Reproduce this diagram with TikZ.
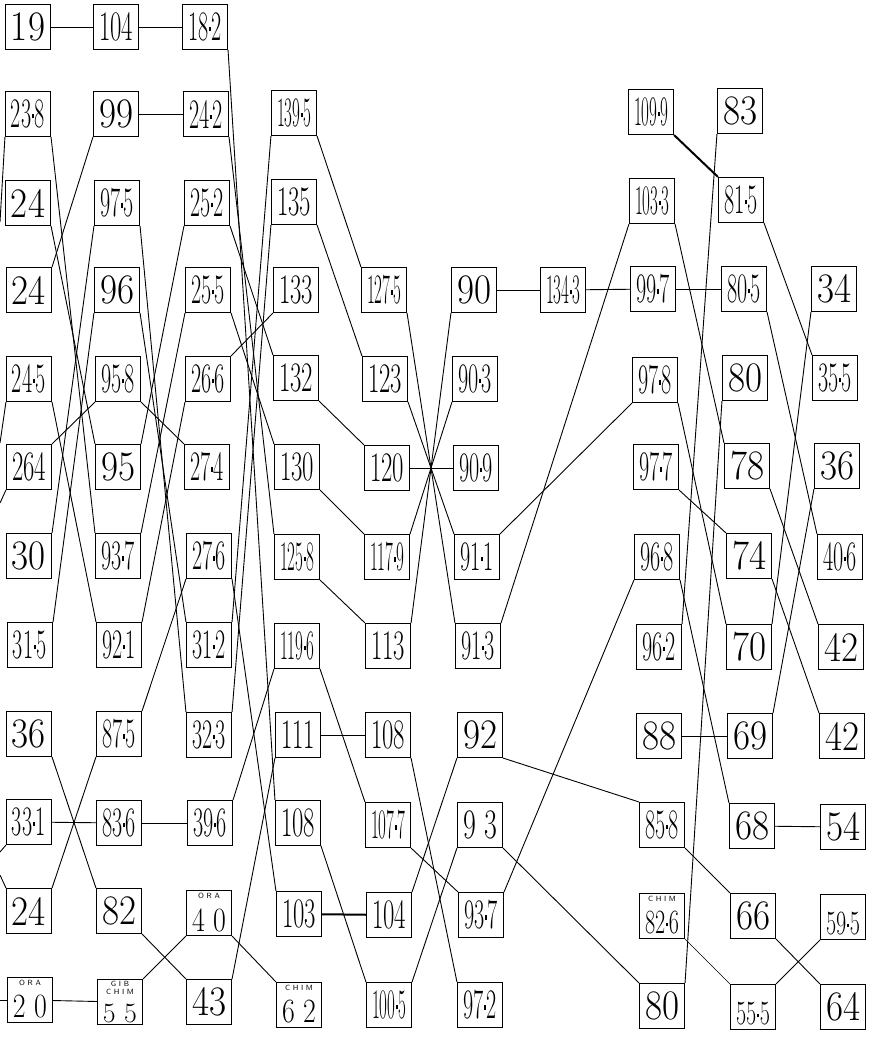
\documentclass[tikz,border=0pt]{standalone}
\usepackage{fontspec}
\usepackage{graphicx}
\newsavebox\numbox
\newcommand{\pd}{\kern0.03em\raisebox{0.22em}{\rule{0.1em}{0.1em}}\kern0.03em}
\newcommand{\fitnum}[2][42]{\sbox\numbox{\fontsize{#1}{#1}\selectfont #2}%
  \ifdim\wd\numbox>34pt\resizebox{34pt}{\height}{\usebox\numbox}\else\usebox\numbox\fi}
\newcommand{\lownum}[2][34]{\raisebox{-7pt}[\height][\depth]{\fitnum[#1]{#2}}}

\begin{document}
\begin{tikzpicture}[x={(1pt,0pt)}, y={(0pt,-1pt)},
  box/.style={draw,rectangle,fill=white,minimum width=45pt,minimum height=45pt,inner sep=0pt,line width=1.1pt},
  tagtext/.style={font=\sffamily\fontsize{7.5}{8}\selectfont,inner sep=0pt,align=center,anchor=north},
  link/.style={line width=0.9pt}]
  \useasboundingbox[fill=white] (0,0) rectangle (871,1038);
  % Nodes
  % column 1
  \node[box] (V19) at (28,27) {\fitnum{19}};
  \node[box] (V238) at (28,114) {\fitnum{23\pd8}};
  \node[box] (V24a) at (28,203) {\fitnum{24}};
  \node[box] (V24b) at (29,290) {\fitnum{24}};
  \node[box] (V245) at (29,379) {\fitnum{24\pd5}};
  \node[box] (V264) at (29,467) {\fitnum{264}};
  \node[box] (V30) at (29,556) {\fitnum{30}};
  \node[box] (V315) at (30,645) {\fitnum{31\pd5}};
  \node[box] (V36a) at (29,734) {\fitnum{36}};
  \node[box] (V331) at (29,822) {\fitnum{33\pd1}};
  \node[box] (V24c) at (29,911) {\fitnum{24}};
  \node[box] (V20) at (30,1000) {\lownum{2 0}};
  \node[tagtext] (T20) at ([yshift=-3pt]V20.north) {O R A};
  % column 2
  \node[box] (V104a) at (116,27) {\fitnum{104}};
  \node[box] (V99) at (116,114) {\fitnum{99}};
  \node[box] (V975) at (117,203) {\fitnum{97\pd5}};
  \node[box] (V96) at (117,290) {\fitnum{96}};
  \node[box] (V958) at (118,379) {\fitnum{95\pd8}};
  \node[box] (V95) at (118,467) {\fitnum{95}};
  \node[box] (V937a) at (118,556) {\fitnum{93\pd7}};
  \node[box] (V921) at (119,645) {\fitnum{92\pd1}};
  \node[box] (V875) at (119,734) {\fitnum{87\pd5}};
  \node[box] (V836) at (119,823) {\fitnum{83\pd6}};
  \node[box] (V82) at (119,911) {\fitnum{82}};
  \node[box] (V55) at (120,1002) {\raisebox{-11pt}[\height][\depth]{\fitnum[28]{5 5}}};
  \node[tagtext] (T55) at ([yshift=-2pt]V55.north) {G I B\\C H I M};
  % column 3
  \node[box] (V182) at (205,27) {\fitnum{18\pd2}};
  \node[box] (V242) at (206,114) {\fitnum{24\pd2}};
  \node[box] (V252) at (207,203) {\fitnum{25\pd2}};
  \node[box] (V255) at (208,290) {\fitnum{25\pd5}};
  \node[box] (V266) at (208,379) {\fitnum{26\pd6}};
  \node[box] (V274) at (207,467) {\fitnum{27\pd4}};
  \node[box] (V276) at (209,556) {\fitnum{27\pd6}};
  \node[box] (V312) at (209,645) {\fitnum{31\pd2}};
  \node[box] (V323) at (209,735) {\fitnum{32\pd3}};
  \node[box] (V396) at (210,823) {\fitnum{39\pd6}};
  \node[box] (V40) at (209,913) {\lownum{4 0}};
  \node[tagtext] (T40) at ([yshift=-3pt]V40.north) {O R A};
  \node[box] (V43) at (209,1002) {\fitnum{43}};
  % column 4
  \node[box] (V1395) at (294,113) {\fitnum{139\pd5}};
  \node[box] (V135) at (294,202) {\fitnum{135}};
  \node[box] (V133) at (296,290) {\fitnum{133}};
  \node[box] (V132) at (296,378) {\fitnum{132}};
  \node[box] (V130) at (297,467) {\fitnum{130}};
  \node[box] (V1258) at (297,557) {\fitnum{125\pd8}};
  \node[box] (V1196) at (297,646) {\fitnum{119\pd6}};
  \node[box] (V111) at (298,735) {\fitnum{111}};
  \node[box] (V108b) at (298,823) {\fitnum{108}};
  \node[box] (V103) at (299,914) {\fitnum{103}};
  \node[box] (V62) at (299,1005) {\lownum{6 2}};
  \node[tagtext] (T62) at ([yshift=-3pt]V62.north) {C H I M};
  % column 5
  \node[box] (V1275) at (384,290) {\fitnum{127\pd5}};
  \node[box] (V123) at (385,379) {\fitnum{123}};
  \node[box] (V120) at (387,468) {\fitnum{120}};
  \node[box] (V1179) at (387,557) {\fitnum{117\pd9}};
  \node[box] (V113) at (388,646) {\fitnum{113}};
  \node[box] (V108a) at (388,735) {\fitnum{108}};
  \node[box] (V1077) at (388,825) {\fitnum{107\pd7}};
  \node[box] (V104b) at (389,915) {\fitnum{104}};
  \node[box] (V1005) at (389,1005) {\fitnum{100\pd5}};
  % column 6
  \node[box] (V90) at (474,290) {\fitnum{90}};
  \node[box] (V903) at (475,379) {\fitnum{90\pd3}};
  \node[box] (V909) at (476,468) {\fitnum{90\pd9}};
  \node[box] (V911) at (477,557) {\fitnum{91\pd1}};
  \node[box] (V913) at (478,646) {\fitnum{91\pd3}};
  \node[box] (V92) at (480,735) {\fitnum{92}};
  \node[box] (V93) at (480,825) {\fitnum{9 3}};
  \node[box] (V937b) at (481,915) {\fitnum{93\pd7}};
  \node[box] (V972) at (480,1005) {\fitnum{97\pd2}};
  \node[box] (V1343) at (563,290) {\fitnum{134\pd3}};
  % column 7
  \node[box] (V1099) at (651,112) {\fitnum{109\pd9}};
  \node[box] (V1033) at (652,201) {\fitnum{103\pd3}};
  \node[box] (V997) at (653,289) {\fitnum{99\pd7}};
  \node[box] (V978) at (655,380) {\fitnum{97\pd8}};
  \node[box] (V977) at (656,467) {\fitnum{97\pd7}};
  \node[box] (V968) at (657,557) {\fitnum{96\pd8}};
  \node[box] (V962) at (659,647) {\fitnum{96\pd2}};
  \node[box] (V88) at (659,736) {\fitnum{88}};
  \node[box] (V858) at (662,825) {\fitnum{85\pd8}};
  \node[box] (V826) at (662,916) {\lownum{82\pd6}};
  \node[tagtext] (T826) at ([yshift=-3pt]V826.north) {C H I M};
  \node[box] (V80b) at (662,1006) {\fitnum{80}};
  % column 8
  \node[box] (V83) at (740,111) {\fitnum{83}};
  \node[box] (V815) at (741,200) {\fitnum{81\pd5}};
  \node[box] (V805) at (744,289) {\fitnum{80\pd5}};
  \node[box] (V80a) at (745,378) {\fitnum{80}};
  \node[box] (V78) at (747,466) {\fitnum{78}};
  \node[box] (V74) at (749,556) {\fitnum{74}};
  \node[box] (V70) at (749,647) {\fitnum{70}};
  \node[box] (V69) at (750,736) {\fitnum{69}};
  \node[box] (V68) at (752,826) {\fitnum{68}};
  \node[box] (V66) at (753,916) {\fitnum{66}};
  \node[box] (V555) at (753,1007) {\lownum{55\pd5}};
  % column 9
  \node[box] (V34) at (834,289) {\fitnum{34}};
  \node[box] (V355) at (835,378) {\fitnum{35\pd5}};
  \node[box] (V36b) at (837,466) {\fitnum{36}};
  \node[box] (V406) at (840,557) {\fitnum{40\pd6}};
  \node[box] (V42a) at (841,647) {\fitnum{42}};
  \node[box] (V42b) at (842,736) {\fitnum{42}};
  \node[box] (V54) at (843,827) {\fitnum{54}};
  \node[box] (V595) at (843,917) {\lownum{59\pd5}};
  \node[box] (V64) at (843,1007) {\fitnum{64}};
  % loose ends at the left margin
  \coordinate (W1) at (0,222);
  \coordinate (W2) at (0,443);
  \coordinate (W3) at (0,503);
  \coordinate (W4) at (0,852);
  \coordinate (W5) at (0,875);
  \coordinate (W6) at (0,1000);

  % Edges
  \begin{scope}[link]
  \draw (V19) -- (V104a);
  \draw (V104a) -- (V182);
  \draw (V238.south west) -- (W1);
  \draw (V245.south west) -- (W2);
  \draw (V264.south west) -- (W3);
  \draw (V331.south west) -- (W4);
  \draw (W5) -- (V24c.north west);
  \draw (W6) -- (V20);
  % column 1 to 2
  \draw (V238.south east) -- (V937a.north west);
  \draw (V24a.south east) -- (V95.north west);
  \draw (V24b.north east) -- (V99.south west);
  \draw (V245.south east) -- (V921.north west);
  \draw (V264.north east) -- (V958.south west);
  \draw (V30.north east) -- (V975.south west);
  \draw (V315.north east) -- (V96.south west);
  \draw (V36a.south east) -- (V82.north west);
  \draw (V331) -- (V836);
  \draw (V24c.north east) -- (V875.south west);
  \draw (V20) -- (V55);
  % column 2 to 3
  \draw (V99) -- (V242);
  \draw (V975.south east) -- (V323.north west);
  \draw (V96.south east) -- (V312.north west);
  \draw (V958.south east) -- (V274.north west);
  \draw (V95.north east) -- (V252.south west);
  \draw (V937a.north east) -- (V255.south west);
  \draw (V921.north east) -- (V266.south west);
  \draw (V875.north east) -- (V276.south west);
  \draw (V836) -- (V396);
  \draw (V82.south east) -- (V43.north west);
  \draw (V55.north east) -- (V40.south west);
  % column 3 to 4
  \draw (V182.south east) -- (V108b.north west);
  \draw (V242.south east) -- (V1258.north west);
  \draw (V252.south east) -- (V132.north west);
  \draw (V255.south east) -- (V130.north west);
  \draw (V266.north east) -- (V133.south west);
  \draw (V276.south east) -- (V103.north west);
  \draw (V312.north east) -- (V1395.south west);
  \draw (V323.north east) -- (V135.south west);
  \draw (V396.north east) -- (V1196.south west);
  \draw (V43.north east) -- (V111.south west);
  \draw (V40.south east) -- (V62.north west);
  % column 4 to 5
  \draw (V1395.south east) -- (V1275.north west);
  \draw (V135.south east) -- (V123.north west);
  \draw (V132.south east) -- (V120.north west);
  \draw (V130.south east) -- (V1179.north west);
  \draw (V1258.south east) -- (V113.north west);
  \draw (V1196.south east) -- (V1077.north west);
  \draw (V111) -- (V108a);
  \draw (V108b.south east) -- (V1005.north west);
  \draw[line width=2pt] (V103) -- (V104b);
  % column 5 to 6
  \draw (V1275.south east) -- (V913.north west);
  \draw (V123.south east) -- (V911.north west);
  \draw (V120) -- (V909);
  \draw (V1179.north east) -- (V903.south west);
  \draw (V113.north east) -- (V90.south west);
  \draw (V108a.south east) -- (V972.north west);
  \draw (V1077.south east) -- (V937b.north west);
  \draw (V104b.north east) -- (V92.south west);
  \draw (V1005.north east) -- (V93.south west);
  % column 6 to 7
  \draw (V90) -- (V1343);
  \draw (V1343) -- (V997);
  \draw (V913.north east) -- (V1033.south west);
  \draw (V911.north east) -- (V978.south west);
  \draw (V92.south east) -- (V858.north west);
  \draw (V93.south east) -- (V80b.north west);
  \draw (V937b.north east) -- (V968.south west);
  % column 7 to 8
  \draw[line width=2pt] (V1099.south east) -- (V815.north west);
  \draw (V997) -- (V805);
  \draw (V1033.south east) -- (V78.north west);
  \draw (V978.south east) -- (V70.north west);
  \draw (V977.south east) -- (V74.north west);
  \draw (V968.south east) -- (V68.north west);
  \draw (V962.north east) -- (V83.south west);
  \draw (V80b.north east) -- (V80a.south west);
  \draw (V88) -- (V69);
  \draw (V858.south east) -- (V66.north west);
  \draw[line width=0.5pt] (V826.south east) -- (V555.north west);
  % column 8 to 9
  \draw (V815.south east) -- (V355.north west);
  \draw (V805.south east) -- (V406.north west);
  \draw (V78.south east) -- (V42a.north west);
  \draw (V74.south east) -- (V42b.north west);
  \draw (V70.north east) -- (V34.south west);
  \draw (V69.north east) -- (V36b.south west);
  \draw (V68) -- (V54);
  \draw (V66.south east) -- (V64.north west);
  \draw (V555.north east) -- (V595.south west);
  \end{scope}
\end{tikzpicture}
\end{document}
